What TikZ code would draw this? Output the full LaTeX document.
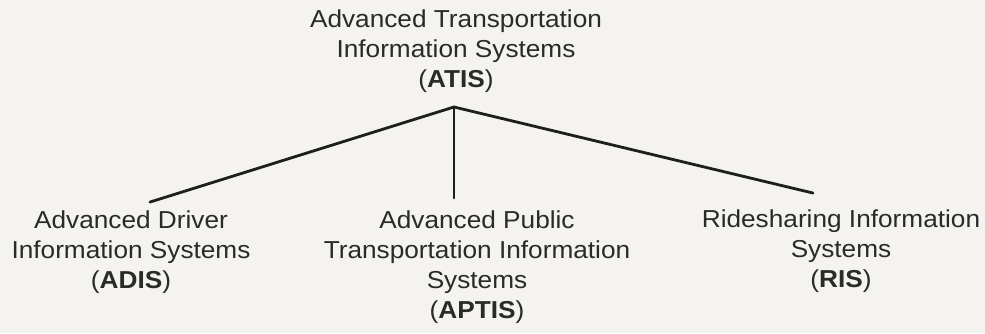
\documentclass[tikz,border=0pt]{standalone}
\usepackage{fontspec}
\newfontfamily\labfont[FakeStretch=1.07]{Liberation Sans}
\usetikzlibrary{calc}
\definecolor{bgc}{HTML}{F4F3F0}
\definecolor{txt}{HTML}{2A2A2A}
\definecolor{ln}{HTML}{1E1E1E}
\tikzset{
  lab/.style={align=center, inner sep=0pt, text=txt, anchor=base,
    font=\labfont\fontsize{24.5pt}{30pt}\selectfont},
  conn/.style={draw=ln, line width=2.8pt, line cap=round}
}
\begin{document}
\begin{tikzpicture}[x=1pt,y=1pt]
\fill[bgc] (0,0) rectangle (985,333);
\useasboundingbox (0,0) rectangle (985,333);
\node[lab] (atis) at (456,246) {Advanced Transportation\\Information Systems\\(\textbf{ATIS})};
\node[lab] (adis) at (131,45) {Advanced Driver\\Information Systems\\(\textbf{ADIS})};
\node[lab] (aptis) at (477,15) {Advanced Public\\Transportation Information\\Systems\\(\textbf{APTIS})};
\node[lab] (ris) at (841,46) {Ridesharing Information\\Systems\\(\textbf{RIS})};
\coordinate (apex) at ($(atis.base)+(-2,-20)$);
\coordinate (lend) at ($(adis.north)+(19,8)$);
\coordinate (mend) at ($(aptis.north)+(-23,12)$);
\coordinate (rend) at ($(ris.north)+(-28,16)$);
\draw[conn] (lend) -- (apex) -- (rend);
\draw[conn] (apex) -- (mend);
\end{tikzpicture}
\end{document}
